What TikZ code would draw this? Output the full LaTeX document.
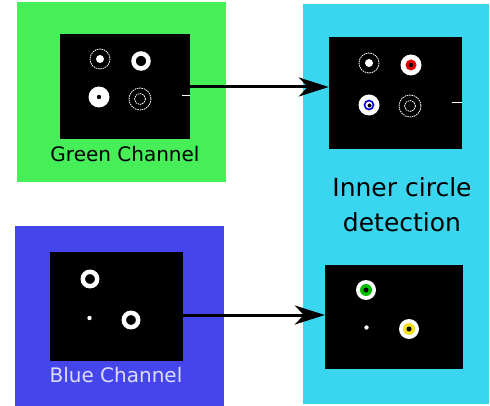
\documentclass[tikz,border=0pt]{standalone}
\usepackage{fontspec}
\setmainfont{DejaVu Sans}
\usetikzlibrary{arrows.meta}
\definecolor{gbg}{HTML}{46EE58}
\definecolor{bbg}{HTML}{4545EC}
\definecolor{cbg}{HTML}{3AD6F0}
\definecolor{bluetxt}{HTML}{DCDCF6}
\definecolor{ylw}{HTML}{F2E020}
\begin{document}
\begin{tikzpicture}[x=1pt,y=-1pt,
  img/.style={fill=black,draw=none,inner sep=0},
  dring/.style={draw=white,line width=0.8pt,dash pattern=on 1.5pt off 0.8pt},
  thick ring/.style={draw=white,line width=4.5pt},
  conn/.style={-{Stealth[length=30pt,width=19pt,inset=9pt]},line width=3pt}]
\useasboundingbox (0,0) rectangle (490,406);
% panels
\fill[gbg] (17,2) rectangle (226,182);
\fill[bbg] (15,226) rectangle (224,406);
\fill[cbg] (303,4) rectangle (489,404);
% images
\node[img,minimum width=130pt,minimum height=105pt] (g) at (125,86.5) {};
\node[img,minimum width=133pt,minimum height=112pt] (ct) at (395.5,93) {};
\node[img,minimum width=133pt,minimum height=109pt] (b) at (116.5,306.5) {};
\node[img,minimum width=138pt,minimum height=104pt] (cb) at (394,317) {};
% labels
\node[font=\fontsize{20}{24}\selectfont] (gl) at (125,154) {Green Channel};
\node[font=\fontsize{20}{24}\selectfont,text=bluetxt] (bl) at (116,375) {Blue Channel};
\node[font=\fontsize{25}{35}\selectfont,align=center] (cl) at (402,205) {Inner circle\\detection};
% green image content
\draw[dring] (100,59) circle (10);
\fill[white] (100,59) circle (4);
\draw[thick ring] (141,61) circle (7.5);
\fill[white] (99,97) circle (10.5);
\fill[black] (99,97) circle (2.2);
\draw[dring] (140,99) circle (11);
\draw[dring] (140,99) circle (5.5);
\draw[white,line width=0.6pt] (182,95) -- (190,95);
% cyan top content
\draw[dring] (369,63) circle (10);
\fill[white] (369,63) circle (4);
\fill[white] (411,65) circle (10.5);
\fill[red!90!black] (411,65) circle (5.5);
\fill[black] (411,65) circle (2.2);
\fill[white] (369,105) circle (10.5);
\draw[blue!85!black,line width=1.6pt] (369,105) circle (4.5);
\fill[black] (369.5,105.5) circle (2);
\draw[dring] (410,106) circle (11);
\draw[dring] (410,106) circle (5.5);
\draw[white,line width=0.6pt] (452,102) -- (462,102);
% blue image content
\draw[thick ring] (90,279) circle (7.2);
\fill[white] (89.5,318) circle (2.2);
\draw[thick ring] (131,320) circle (7.2);
% cyan bottom content
\fill[white] (366,290) circle (10);
\fill[green!75!black] (366,290) circle (6);
\fill[black] (366,290) circle (2.5);
\fill[white] (366.5,327.5) circle (2.2);
\fill[white] (409,329) circle (10);
\fill[ylw] (409,329) circle (6);
\fill[black] (409,329) circle (2.5);
% connectors
\draw[conn] (g.east |- 0,87) -- (ct.west |- 0,87);
\draw[conn] (b.east |- 0,315) -- (cb.west |- 0,315);
\end{tikzpicture}
\end{document}
